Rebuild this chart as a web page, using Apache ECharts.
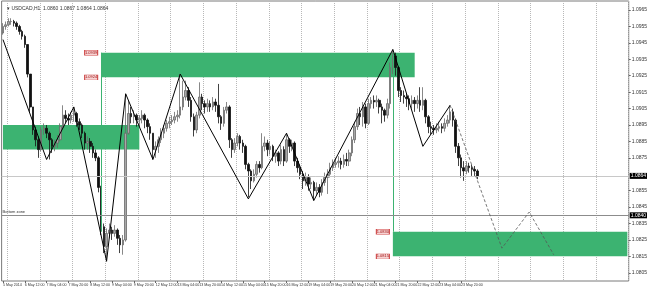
<!DOCTYPE html>
<html><head><meta charset="utf-8">
<script src="https://cdn.jsdelivr.net/npm/echarts@6/dist/echarts.min.js"></script>
<style>html,body{margin:0;padding:0;background:#fff}#c{width:650px;height:288px}</style>
</head><body><div id="c"></div>
<script>
const chartTitle = '\u25BE USDCAD,H1  1.0860 1.0867 1.0864 1.0864';
const timeLabels = ['5 May 2014','6 May 12:00','7 May 04:00','7 May 20:00','8 May 12:00','9 May 04:00','9 May 20:00',
  '12 May 12:00','13 May 04:00','13 May 20:00','14 May 12:00','15 May 04:00','15 May 20:00','16 May 12:00',
  '19 May 04:00','19 May 20:00','20 May 12:00','21 May 04:00','21 May 20:00','22 May 12:00','23 May 04:00','23 May 20:00'];
const priceTicks = [1.0805,1.0815,1.0825,1.0835,1.0845,1.0855,1.0875,1.0885,1.0895,1.0905,1.0915,1.0925,1.0935,1.0945,1.0955,1.0965];
const firstOpen = 1.0951;
const closes = [
1.0955,1.0956,1.0958,1.0958,1.0957,1.0955,1.0952,1.0949,1.0944,1.0926,
1.0906,1.0892,1.0886,1.0880,1.0892,1.0893,1.0890,1.0886,1.0882,1.0884,
1.0886,1.0894,1.0901,1.0899,1.0898,1.0901,1.0902,1.0897,1.0895,1.0890,
1.0884,1.0885,1.0882,1.0878,1.0875,1.0857,1.0833,1.0821,1.0829,1.0831,
1.0829,1.0831,1.0826,1.0822,1.0825,1.0890,1.0902,1.0900,1.0901,1.0898,
1.0899,1.0901,1.0898,1.0894,1.0890,1.0880,1.0882,1.0886,1.0890,1.0893,
1.0896,1.0897,1.0898,1.0900,1.0901,1.0906,1.0912,1.0916,1.0910,1.0900,
1.0892,1.0901,1.0912,1.0908,1.0906,1.0908,1.0906,1.0909,1.0907,1.0900,
1.0896,1.0904,1.0906,1.0886,1.0880,1.0884,1.0888,1.0884,1.0882,1.0871,
1.0867,1.0861,1.0865,1.0871,1.0869,1.0882,1.0884,1.0880,1.0882,1.0876,
1.0878,1.0873,1.0880,1.0873,1.0886,1.0882,1.0884,1.0873,1.0869,1.0865,
1.0861,1.0863,1.0859,1.0860,1.0855,1.0857,1.0854,1.0860,1.0863,1.0865,
1.0869,1.0871,1.0872,1.0873,1.0871,1.0874,1.0873,1.0878,1.0886,1.0894,
1.0902,1.0900,1.0906,1.0896,1.0908,1.0910,1.0909,1.0910,1.0906,1.0904,
1.0901,1.0908,1.0930,1.0937,1.0930,1.0916,1.0913,1.0912,1.0911,1.0908,
1.0910,1.0908,1.0910,1.0907,1.0910,1.0900,1.0894,1.0893,1.0892,1.0893,
1.0894,1.0893,1.0896,1.0898,1.0903,1.0898,1.0882,1.0875,1.0869,1.0867,
1.0870,1.0869,1.0868,1.0867,1.0864];
const highs = [
1.0957,1.0958,1.0960,1.0960,1.0959,1.0958,1.0956,1.0953,1.0950,1.0944,
1.0926,1.0906,1.0894,1.0888,1.0894,1.0896,1.0895,1.0891,1.0887,1.0886,
1.0889,1.0896,1.0907,1.0904,1.0902,1.0903,1.0906,1.0903,1.0899,1.0896,
1.0891,1.0888,1.0887,1.0884,1.0880,1.0876,1.0858,1.0835,1.0832,1.0835,
1.0833,1.0834,1.0832,1.0828,1.0828,1.0914,1.0910,1.0906,1.0904,1.0902,
1.0901,1.0904,1.0902,1.0899,1.0896,1.0890,1.0885,1.0888,1.0893,1.0895,
1.0898,1.0900,1.0901,1.0903,1.0904,1.0926,1.0922,1.0922,1.0918,1.0912,
1.0902,1.0903,1.0921,1.0914,1.0910,1.0911,1.0910,1.0912,1.0911,1.0920,
1.0901,1.0906,1.0909,1.0907,1.0887,1.0887,1.0890,1.0889,1.0886,1.0883,
1.0872,1.0868,1.0868,1.0873,1.0873,1.0890,1.0888,1.0886,1.0885,1.0883,
1.0880,1.0879,1.0883,1.0882,1.0890,1.0887,1.0886,1.0885,1.0875,1.0871,
1.0867,1.0866,1.0865,1.0863,1.0861,1.0860,1.0859,1.0862,1.0866,1.0868,
1.0872,1.0874,1.0875,1.0876,1.0875,1.0877,1.0878,1.0880,1.0888,1.0897,
1.0905,1.0906,1.0909,1.0908,1.0911,1.0912,1.0913,1.0913,1.0911,1.0908,
1.0905,1.0911,1.0933,1.0941,1.0939,1.0931,1.0918,1.0916,1.0914,1.0913,
1.0913,1.0912,1.0913,1.0918,1.0918,1.0911,1.0901,1.0897,1.0895,1.0896,
1.0897,1.0896,1.0899,1.0901,1.0907,1.0905,1.0899,1.0884,1.0877,1.0873,
1.0873,1.0872,1.0871,1.0870,1.0868];
const lows = [
1.0950,1.0953,1.0955,1.0956,1.0955,1.0953,1.0950,1.0947,1.0942,1.0924,
1.0903,1.0889,1.0882,1.0875,1.0879,1.0889,1.0887,1.0874,1.0878,1.0879,
1.0881,1.0885,1.0893,1.0896,1.0895,1.0896,1.0897,1.0894,1.0892,1.0887,
1.0880,1.0880,1.0878,1.0875,1.0873,1.0854,1.0828,1.0817,1.0812,1.0826,
1.0825,1.0827,1.0822,1.0817,1.0816,1.0824,1.0889,1.0896,1.0896,1.0894,
1.0894,1.0896,1.0893,1.0890,1.0886,1.0874,1.0875,1.0878,1.0884,1.0887,
1.0891,1.0893,1.0895,1.0896,1.0897,1.0899,1.0904,1.0910,1.0906,1.0897,
1.0888,1.0890,1.0899,1.0904,1.0902,1.0903,1.0903,1.0904,1.0903,1.0896,
1.0892,1.0894,1.0902,1.0881,1.0875,1.0878,1.0882,1.0880,1.0878,1.0868,
1.0851,1.0856,1.0860,1.0863,1.0866,1.0868,1.0879,1.0876,1.0877,1.0873,
1.0872,1.0870,1.0871,1.0870,1.0872,1.0878,1.0879,1.0870,1.0866,1.0862,
1.0856,1.0858,1.0855,1.0856,1.0849,1.0852,1.0851,1.0852,1.0858,1.0853,
1.0863,1.0867,1.0869,1.0869,1.0868,1.0869,1.0870,1.0870,1.0876,1.0884,
1.0892,1.0895,1.0894,1.0893,1.0895,1.0905,1.0905,1.0906,1.0902,1.0896,
1.0897,1.0899,1.0905,1.0926,1.0925,1.0912,1.0909,1.0908,1.0906,1.0904,
1.0905,1.0903,1.0905,1.0903,1.0904,1.0896,1.0890,1.0889,1.0889,1.0890,
1.0891,1.0890,1.0891,1.0894,1.0896,1.0894,1.0878,1.0870,1.0863,1.0861,
1.0865,1.0866,1.0864,1.0864,1.0862];
const zigzagIdx   = [0, 16, 26, 38, 45, 55, 65, 90, 104, 114, 143, 154, 164];
const zigzagPrice = [1.0947,1.0874,1.0906,1.0812,1.0914,1.0874,1.0926,1.0850,1.0890,1.0849,1.0941,1.0882,1.0907];
const projIdx   = [164, 183, 193, 202];
const projPrice = [1.0907,1.0820,1.0842,1.0816];
const zoneStart  = [0, 36, 143];
const zoneEnd    = [50, 151, 229];
const zoneTop    = [1.0895, 1.0939, 1.0830];
const zoneBottom = [1.0880, 1.0924, 1.0815];
const zoneTagged = [false, true, true];
const vlineIdx    = [36, 143];
const vlineTop    = [1.0939, 1.0939];
const vlineBottom = [1.0830, 1.0830];
const currentPrice = 1.0864;
const bottomLine = 1.0840;
const bottomLabel = 'Bottom zone';
const slotCount = 230;

const FONT = 'Liberation Sans';
const slots = Array.from({length: slotCount}, (_, i) => 's' + i);
const candles = closes.map((c, i) => [i === 0 ? firstOpen : closes[i - 1], c, lows[i], highs[i]]);
const labelShown = (idx) => idx % 8 === 0 && idx / 8 < timeLabels.length;

const zoneAreas = zoneStart.map((s, k) => [
  {coord: [zoneStart[k], zoneTop[k]]}, {coord: [zoneEnd[k], zoneBottom[k]]}
]);
const tagPoints = [];
zoneStart.forEach((s, k) => {
  if (!zoneTagged[k]) return;
  [zoneTop[k], zoneBottom[k]].forEach(p => tagPoints.push({coord: [s, p], value: p.toFixed(4)}));
});
const vlines = vlineIdx.map((x, k) => [{coord: [x, vlineTop[k]]}, {coord: [x, vlineBottom[k]]}]);
const boxLabel = {show: true, position: 'end', distance: 1, backgroundColor: '#000', color: '#fff', fontSize: 5, padding: [1, 1, 0, 1], fontFamily: FONT};

const chart = echarts.init(document.getElementById('c'), null, {renderer: 'canvas'});
chart.setOption({
  animation: false,
  backgroundColor: '#fff',
  textStyle: {fontFamily: FONT},
  title: {text: chartTitle, left: 2, top: 1, textStyle: {fontSize: 5, fontWeight: 'normal', color: '#333', fontFamily: FONT}},
  grid: {left: 1, right: 15, top: 1, bottom: 7, show: true, borderColor: '#7a7a7a', borderWidth: 1, backgroundColor: 'transparent'},
  xAxis: {
    type: 'category', data: slots, boundaryGap: true,
    axisLine: {show: false},
    axisTick: {show: true, interval: labelShown, alignWithLabel: true, length: 2, lineStyle: {color: '#666'}},
    axisLabel: {show: true, interval: labelShown, formatter: (v, idx) => timeLabels[idx / 8] || '',
      align: 'left', fontSize: 3.6, color: '#333', margin: 1.5, fontFamily: FONT},
    splitLine: {show: true, interval: (idx) => idx % 12 === 2, lineStyle: {color: '#b8b8b8', type: 'dotted', width: 1}}
  },
  yAxis: {
    type: 'value', position: 'right', min: 1.0800, max: 1.09705, scale: true,
    axisLine: {show: false},
    axisTick: {show: true, customValues: priceTicks, length: 2, lineStyle: {color: '#666'}},
    axisLabel: {show: true, customValues: priceTicks, formatter: v => v.toFixed(4), fontSize: 5, color: '#333', margin: 3, fontFamily: FONT},
    splitLine: {show: false}
  },
  series: [
    {
      type: 'line', data: [], z: 1, silent: true,
      markArea: {silent: true, itemStyle: {color: '#3cb371', opacity: 1}, data: zoneAreas}
    },
    {
      type: 'line', data: [], z: 2, silent: true,
      markLine: {silent: true, precision: 5, symbol: ['none', 'none'], animation: false,
        lineStyle: {color: '#3cb371', width: 1, type: 'solid'}, label: {show: false}, data: vlines}
    },
    {
      type: 'line', data: [], z: 2, silent: true,
      markLine: {silent: true, precision: 5, symbol: ['none', 'none'], animation: false, data: [
        {yAxis: currentPrice, lineStyle: {color: '#c8c8c8', width: 1, type: 'solid'},
          label: Object.assign({}, boxLabel, {formatter: currentPrice.toFixed(4)})},
        {yAxis: bottomLine, lineStyle: {color: '#8c8c8c', width: 1, type: 'solid'},
          label: Object.assign({}, boxLabel, {formatter: bottomLine.toFixed(4)})},
        {yAxis: bottomLine, lineStyle: {color: '#8c8c8c', width: 1, type: 'solid'},
          label: {show: true, position: 'insideStartTop', distance: 1, formatter: bottomLabel, color: '#333', fontSize: 4, fontFamily: FONT}}
      ]}
    },
    {
      type: 'candlestick', data: candles, z: 3, barWidth: '75%',
      itemStyle: {color: '#a8a8a8', color0: '#111', borderColor: '#6a6a6a', borderColor0: '#111', borderWidth: 0.8}
    },
    {
      type: 'line', z: 5, symbol: 'none', silent: true,
      data: zigzagIdx.map((x, k) => [x, zigzagPrice[k]]),
      lineStyle: {color: '#000', width: 1}
    },
    {
      type: 'line', z: 5, symbol: 'none', silent: true,
      data: projIdx.map((x, k) => [x, projPrice[k]]),
      lineStyle: {color: '#555', width: 0.8, type: [3, 2]},
      markPoint: {silent: true, symbol: 'rect', symbolSize: [13, 5], symbolOffset: [-10, 0],
        itemStyle: {color: '#f6d3d3', borderColor: '#d04848', borderWidth: 0.7},
        label: {show: true, position: 'inside', formatter: p => p.value, fontSize: 4, color: '#a01010', fontFamily: FONT},
        data: tagPoints}
    }
  ]
});
</script></body></html>
